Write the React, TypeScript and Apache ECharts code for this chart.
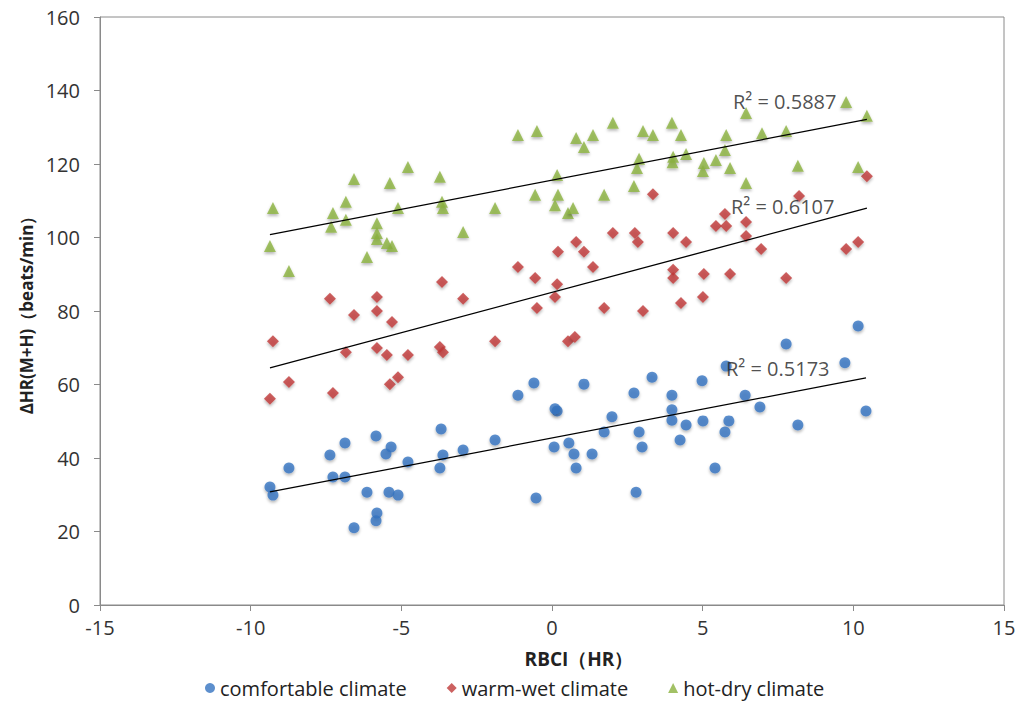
import React, { useEffect, useRef } from "react";
import * as echarts from "echarts";

// [RBCI, ΔHR] pairs
const comfortable: number[][] = [
  [-1.13, 57.1], [-0.6, 60.4], [0.17, 52.8], [0.07, 43.0], [0.56, 44.1],
  [-3.68, 47.9], [-5.84, 46.0], [-6.87, 44.1], [-7.37, 40.8], [-5.34, 43.0],
  [-5.51, 41.1], [-8.73, 37.3], [-4.78, 38.9], [-3.62, 40.8], [-3.72, 37.3],
  [-2.95, 42.2], [-1.89, 44.9], [-9.36, 32.1], [-9.26, 29.9], [-7.27, 34.8],
  [-6.87, 34.8], [-6.14, 30.7], [-5.41, 30.7], [-5.11, 29.9], [-0.53, 29.1],
  [-5.81, 25.0], [-5.84, 22.9], [-6.57, 21.0], [10.16, 75.9], [7.77, 71.0],
  [9.72, 65.9], [5.78, 65.0], [3.32, 62.0], [4.98, 61.0], [1.06, 60.1],
  [2.72, 57.7], [3.98, 57.1], [6.41, 57.1], [3.98, 53.1], [3.98, 50.3],
  [6.9, 53.9], [10.42, 52.8], [0.1, 53.4], [1.99, 51.2], [1.73, 47.1],
  [2.89, 47.1], [4.45, 49.0], [5.01, 50.1], [5.87, 50.1], [5.74, 47.1],
  [8.16, 49.0], [0.73, 41.1], [1.33, 41.1], [0.8, 37.3], [2.99, 43.0],
  [4.25, 44.9], [5.41, 37.3], [2.79, 30.7],
];

const warmWet: number[][] = [
  [0.2, 96.1], [-1.13, 92.0], [-0.56, 89.0], [0.17, 87.3], [0.1, 83.8],
  [-3.65, 87.9], [-2.95, 83.3], [-7.37, 83.3], [-5.81, 83.8], [-0.5, 80.8],
  [-5.81, 80.0], [-6.57, 78.9], [-5.31, 77.0], [-9.26, 71.8], [-6.84, 68.8],
  [-5.81, 69.9], [-5.48, 68.0], [-4.78, 68.0], [-3.72, 70.2], [-3.62, 68.8],
  [-1.89, 71.8], [0.53, 71.8], [0.76, 72.9], [-8.73, 60.7], [-7.27, 57.7],
  [-9.36, 56.1], [-5.38, 60.1], [-5.11, 62.0], [3.35, 111.8], [8.2, 111.3],
  [10.45, 116.7], [5.74, 106.4], [5.44, 103.1], [5.78, 103.1], [6.44, 104.2],
  [6.44, 100.4], [6.94, 96.9], [2.02, 101.2], [2.75, 101.2], [2.85, 98.8],
  [4.02, 101.2], [4.45, 98.8], [0.8, 98.8], [1.06, 96.1], [1.36, 92.0],
  [4.02, 91.2], [4.02, 89.0], [5.04, 90.1], [5.91, 90.1], [7.77, 89.0],
  [9.76, 96.9], [10.16, 98.8], [1.73, 80.8], [3.02, 80.0], [4.28, 82.2],
  [5.01, 83.8],
];

const hotDry: number[][] = [
  [-9.26, 108.0], [-9.36, 97.7], [-8.73, 90.9], [-6.57, 115.9], [-5.38, 114.8],
  [-4.78, 119.2], [-3.72, 116.5], [-6.84, 109.7], [-7.27, 106.7], [-6.84, 104.8],
  [-7.33, 102.9], [-5.81, 103.9], [-5.81, 101.2], [-5.81, 99.6], [-5.48, 98.5],
  [-5.31, 97.7], [-6.14, 94.7], [-5.11, 108.0], [-3.65, 109.7], [-3.62, 108.0],
  [-2.95, 101.5], [-1.89, 108.0], [-1.13, 127.9], [-0.5, 129.0], [0.17, 117.0],
  [-0.56, 111.6], [0.2, 111.6], [0.1, 108.8], [0.53, 106.7], [0.7, 108.0],
  [0.8, 127.1], [1.36, 127.9], [1.06, 124.6], [2.02, 131.2], [3.02, 129.0],
  [3.35, 127.9], [3.98, 131.2], [4.28, 127.9], [5.78, 127.9], [6.44, 133.9],
  [6.97, 128.4], [7.77, 129.0], [9.76, 136.9], [10.45, 133.1], [1.73, 111.6],
  [2.72, 114.0], [2.89, 121.4], [2.82, 118.9], [4.02, 122.0], [4.0, 120.5],
  [4.45, 122.7], [5.04, 120.3], [5.01, 118.1], [5.44, 121.1], [5.74, 123.8],
  [5.91, 118.9], [6.44, 114.8], [8.16, 119.5], [10.16, 119.2],
];

const seriesNames = ["comfortable climate", "warm-wet climate", "hot-dry climate"];
const r2Labels = ["R² = 0.5173", "R² = 0.6107", "R² = 0.5887"];

const colors = ["#3573C0", "#BF3A38", "#8BB23E"];
const symbols = ["circle", "diamond", "triangle"];
// where each R² label sits, relative to the right end of its trend line (px)
const labelOffsets = [[-140, -19], [-136, -12], [-134, -28]];

const fit = (pts: number[][]) => {
  const n = pts.length;
  let sx = 0, sy = 0, sxx = 0, sxy = 0;
  pts.forEach(([x, y]) => {
    sx += x; sy += y; sxx += x * x; sxy += x * y;
  });
  const slope = (n * sxy - sx * sy) / (n * sxx - sx * sx);
  const icpt = (sy - slope * sx) / n;
  const xs = pts.map((p) => p[0]);
  const x0 = Math.min(...xs);
  const x1 = Math.max(...xs);
  return [[x0, icpt + slope * x0], [x1, icpt + slope * x1]];
};

const App = () => {
  const chartRef = useRef<HTMLDivElement>(null);

  useEffect(() => {
    if (!chartRef.current) return;
    document.body.style.margin = "0";
    const chart = echarts.init(chartRef.current, undefined, { renderer: "svg" });

    const groups = [comfortable, warmWet, hotDry];
    const font = "'Open Sans', 'Liberation Sans', sans-serif";

    const scatterSeries = groups.map((pts, i) => ({
      name: seriesNames[i],
      type: "scatter",
      data: pts,
      symbol: symbols[i],
      symbolSize: i === 0 ? 11 : 12,
      itemStyle: {
        color: colors[i],
        shadowBlur: 3,
        shadowOffsetY: 2,
        shadowColor: "rgba(0,0,0,0.35)",
      },
      z: 2,
    }));

    const trendSeries = groups.map((pts) => ({
      type: "line",
      data: fit(pts),
      symbol: "none",
      lineStyle: { color: "#000", width: 1.3 },
      silent: true,
      z: 3,
    }));

    const labelSeries = groups.map((pts, i) => ({
      type: "scatter",
      data: [fit(pts)[1]],
      symbolSize: 0,
      silent: true,
      label: {
        show: true,
        formatter: r2Labels[i],
        position: labelOffsets[i],
        fontSize: 20,
        fontFamily: font,
        color: "#222",
      },
      z: 4,
    }));

    chart.setOption({
      animation: false,
      backgroundColor: "#fff",
      textStyle: { fontFamily: font },
      grid: {
        left: 100,
        right: 20,
        top: 17,
        bottom: 101,
        show: true,
        borderColor: "#8a8a8a",
        borderWidth: 1,
      },
      legend: {
        data: seriesNames.map((name, i) => ({ name, icon: symbols[i] })),
        bottom: 3,
        left: 200,
        itemWidth: 10,
        itemHeight: 10,
        itemGap: 40,
        textStyle: { fontSize: 20, color: "#222", fontFamily: font },
      },
      xAxis: {
        type: "value",
        min: -15,
        max: 15,
        interval: 5,
        name: "RBCI（HR）",
        nameLocation: "middle",
        nameGap: 44,
        nameTextStyle: {
          fontSize: 19,
          fontWeight: "bold",
          color: "#222",
          padding: [0, 0, 0, 54],
        },
        splitLine: { show: false },
        axisLine: { onZero: false, lineStyle: { color: "#8a8a8a" } },
        axisTick: { show: true, length: 6, lineStyle: { color: "#8a8a8a" } },
        axisLabel: { fontSize: 20, color: "#333", margin: 12 },
      },
      yAxis: {
        type: "value",
        min: 0,
        max: 160,
        interval: 20,
        name: "ΔHR(M+H)（beats/min）",
        nameLocation: "middle",
        nameRotate: 90,
        nameGap: 65,
        nameTextStyle: { fontSize: 17, fontWeight: "bold", color: "#222" },
        splitLine: { show: false },
        axisLine: { show: true, onZero: false, lineStyle: { color: "#8a8a8a" } },
        axisTick: { show: true, length: 6, lineStyle: { color: "#8a8a8a" } },
        axisLabel: { fontSize: 20, color: "#333", margin: 20 },
      },
      series: [...scatterSeries, ...trendSeries, ...labelSeries],
    });

    return () => {
      chart.dispose();
    };
  }, []);

  return <div ref={chartRef} style={{ width: "1024px", height: "706px" }} />;
};

export default App;
